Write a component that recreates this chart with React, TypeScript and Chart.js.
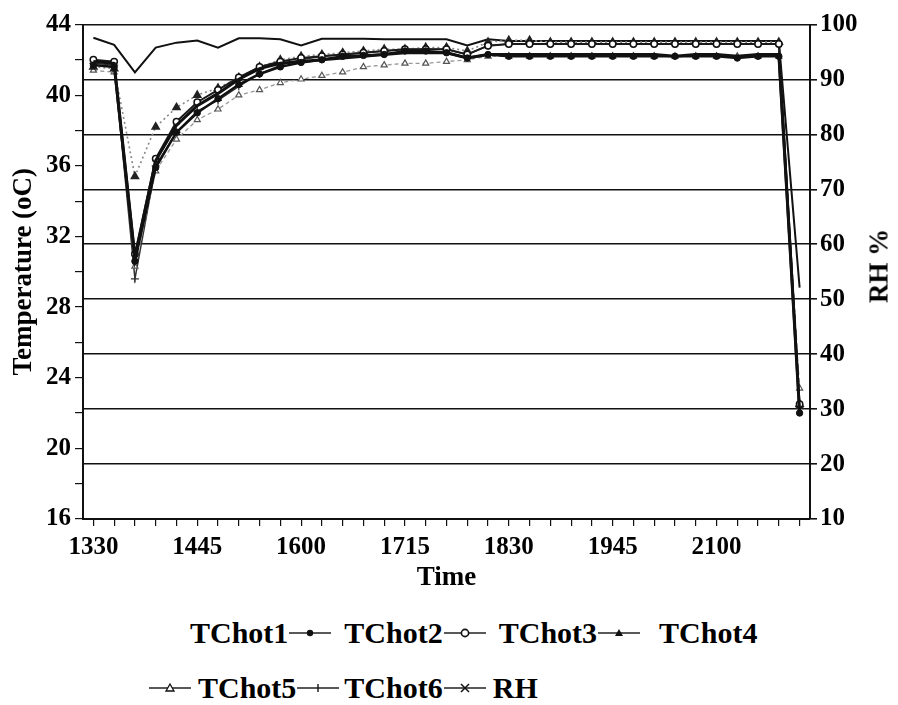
import React, { useEffect, useRef } from "react";
import { Chart, registerables } from "chart.js";

Chart.register(...registerables);

const times = ["1330","1345","1400","1415","1430","1445","1500","1515","1530","1545","1600","1615","1630","1645","1700","1715","1730","1745","1800","1815","1830","1845","1900","1915","1930","1945","2000","2015","2030","2045","2100","2115","2130","2145","2200"];

const tchot1 = [41.9, 41.8, 30.8, 36.3, 38.3, 39.4, 40.1, 40.9, 41.5, 41.8, 41.9, 42.0, 42.1, 42.2, 42.3, 42.4, 42.4, 42.4, 42.1, 42.3, 42.3, 42.3, 42.3, 42.3, 42.3, 42.3, 42.3, 42.3, 42.2, 42.3, 42.3, 42.2, 42.3, 42.3, 22.0];
const tchot2 = [41.7, 41.6, 30.6, 35.9, 37.9, 39.0, 39.8, 40.6, 41.2, 41.6, 41.85, 42.0, 42.2, 42.25, 42.3, 42.5, 42.5, 42.4, 42.1, 42.3, 42.2, 42.2, 42.2, 42.2, 42.2, 42.2, 42.2, 42.2, 42.2, 42.2, 42.2, 42.1, 42.2, 42.2, 22.0];
const tchot3 = [42.0, 41.9, 31.0, 36.4, 38.5, 39.6, 40.3, 41.0, 41.6, 41.9, 42.1, 42.2, 42.3, 42.4, 42.5, 42.6, 42.6, 42.6, 42.3, 42.8, 42.9, 42.9, 42.9, 42.9, 42.9, 42.9, 42.9, 42.9, 42.9, 42.9, 42.9, 42.9, 42.9, 42.9, 22.5];
const tchot4 = [41.6, 41.5, 35.4, 38.2, 39.3, 40.0, 40.4, 41.0, 41.6, 42.0, 42.2, 42.3, 42.4, 42.5, 42.6, 42.6, 42.7, 42.7, 42.5, 43.0, 43.1, 43.1, 43.0, 43.0, 43.0, 43.0, 43.0, 43.0, 43.0, 43.0, 43.0, 43.0, 43.0, 43.0, 22.5];
const tchot5 = [41.4, 41.3, 30.3, 35.7, 37.5, 38.6, 39.2, 40.0, 40.3, 40.7, 40.9, 41.1, 41.3, 41.6, 41.7, 41.8, 41.8, 41.9, 42.0, 42.2, 42.2, 42.2, 42.2, 42.2, 42.2, 42.2, 42.2, 42.2, 42.2, 42.2, 42.2, 42.2, 42.2, 42.2, 23.4];
const tchot6 = [41.8, 41.7, 29.6, 36.0, 37.9, 39.1, 39.7, 40.5, 41.2, 41.7, 42.0, 42.2, 42.3, 42.4, 42.5, 42.6, 42.6, 42.6, 42.3, 42.8, 42.9, 42.9, 42.9, 42.9, 42.9, 42.9, 42.9, 42.9, 42.9, 42.9, 42.9, 42.9, 42.9, 42.9, 22.3];
const rh = [97.6, 96.3, 91.3, 95.8, 96.7, 97.1, 95.8, 97.5, 97.5, 97.3, 96.2, 97.4, 97.4, 97.4, 97.3, 97.3, 97.3, 97.3, 96.2, 97.3, 97.0, 97.0, 97.0, 97.0, 97.0, 97.0, 97.0, 97.0, 97.0, 97.0, 97.0, 97.0, 97.0, 97.0, 52.1];

const tempMin = 16;
const tempMax = 44;
const rhMin = 10;
const rhMax = 100;
const labelEvery = 5;

const FONT = "'Liberation Serif', 'Times New Roman', serif";

type Sym = "none" | "dot" | "circle" | "tri" | "otri" | "plus" | "cross";

function Symbol({ kind }: { kind: Sym }) {
  const w = 44;
  const cx = w / 2, cy = 12;
  let m: React.ReactNode = null;
  if (kind === "dot") m = <circle cx={cx} cy={cy} r={3.2} fill="#111" />;
  if (kind === "circle") m = <circle cx={cx} cy={cy} r={3.6} fill="#fff" stroke="#111" strokeWidth={1.6} />;
  if (kind === "tri") m = <polygon points={`${cx},${cy - 4} ${cx + 4},${cy + 3} ${cx - 4},${cy + 3}`} fill="#111" />;
  if (kind === "otri") m = <polygon points={`${cx},${cy - 4} ${cx + 4},${cy + 3} ${cx - 4},${cy + 3}`} fill="#fff" stroke="#111" strokeWidth={1.3} />;
  if (kind === "plus") m = <path d={`M${cx} ${cy - 4} V${cy + 4}`} stroke="#111" strokeWidth={1.4} />;
  if (kind === "cross") m = <path d={`M${cx - 4} ${cy - 4} L${cx + 4} ${cy + 4} M${cx + 4} ${cy - 4} L${cx - 4} ${cy + 4}`} stroke="#111" strokeWidth={1.5} />;
  return (
    <svg width={w} height={24} style={{ display: "block", flex: "0 0 auto" }}>
      <line x1={1} y1={cy} x2={w - 1} y2={cy} stroke="#222" strokeWidth={1.5} />
      {m}
    </svg>
  );
}

export default function App() {
  const ref = useRef<HTMLCanvasElement>(null);

  useEffect(() => {
    if (!ref.current) return;
    const tickFont = { family: FONT, size: 25, weight: "bold" as const, lineHeight: 1 };
    const titleFont = { family: FONT, size: 27, weight: "bold" as const, lineHeight: 1.2 };
    const chart = new Chart(ref.current, {
      type: "line",
      data: {
        labels: times,
        datasets: [
          { label: "TChot1", data: tchot1, yAxisID: "y", borderColor: "#111", borderWidth: 3, pointRadius: 0, tension: 0 },
          { label: "TChot2", data: tchot2, yAxisID: "y", borderColor: "#111", borderWidth: 2.5, pointStyle: "circle", pointRadius: 3.2, pointBackgroundColor: "#111", pointBorderColor: "#111", pointBorderWidth: 1 },
          { label: "TChot3", data: tchot3, yAxisID: "y", borderColor: "#1a1a1a", borderWidth: 2, pointStyle: "circle", pointRadius: 3.2, pointBackgroundColor: "#fff", pointBorderColor: "#111", pointBorderWidth: 1.5 },
          { label: "TChot4", data: tchot4, yAxisID: "y", borderColor: "#888", borderWidth: 1.6, borderDash: [2, 3], pointStyle: "triangle", pointRadius: 4, pointBackgroundColor: "#222", pointBorderColor: "#222" },
          { label: "TChot5", data: tchot5, yAxisID: "y", borderColor: "#999", borderWidth: 1.3, borderDash: [4, 3], pointStyle: "triangle", pointRadius: 3.5, pointBackgroundColor: "#fff", pointBorderColor: "#555", pointBorderWidth: 1.2 },
          { label: "TChot6", data: tchot6, yAxisID: "y", borderColor: "#333", borderWidth: 1.5, pointStyle: "cross", pointRadius: 4, pointBorderColor: "#333", pointBorderWidth: 1.3 },
          { label: "RH", data: rh, yAxisID: "y2", borderColor: "#111", borderWidth: 2, pointStyle: "crossRot", pointRadius: 0, pointBorderColor: "#111" },
        ],
      },
      options: {
        animation: false,
        responsive: false,
        maintainAspectRatio: false,
        layout: { padding: { top: 14, left: 0, right: 0, bottom: 0 } },
        plugins: { legend: { display: false }, tooltip: { enabled: false } },
        scales: {
          x: {
            type: "category",
            offset: true,
            grid: { display: true, drawOnChartArea: false, drawTicks: true, tickLength: 7, color: "#111", lineWidth: 1.2, offset: false },
            border: { display: true, color: "#111", width: 2 },
            ticks: {
              autoSkip: false, maxRotation: 0, minRotation: 0, padding: 9, color: "#000", font: tickFont,
              callback: (_v: any, i: number) => (i % labelEvery === 0 ? times[i] : ""),
            },
            title: { display: true, text: "Time", color: "#000", font: titleFont, padding: { top: 0, bottom: 14 } },
            afterFit: (s: any) => { s.height = 89; },
          },
          y: {
            position: "left",
            min: tempMin,
            max: tempMax,
            grid: { display: true, drawOnChartArea: false, drawTicks: true, tickLength: 8, color: "#111", lineWidth: 1.2 },
            border: { display: true, color: "#111", width: 2 },
            ticks: {
              stepSize: 2, padding: 4, color: "#000", font: tickFont,
              callback: (v: any) => (Number(v) % 4 === 0 ? String(v) : ""),
            },
            title: { display: true, text: "Temperature (oC)", color: "#000", font: titleFont, padding: { top: 0, bottom: 0 } },
            afterFit: (s: any) => { s.width = 75; },
          },
          y2: {
            position: "right",
            min: rhMin,
            max: rhMax,
            grid: { display: true, drawOnChartArea: true, drawTicks: true, tickLength: 7, color: "#111", lineWidth: 1.6 },
            border: { display: true, color: "#111", width: 2 },
            ticks: { stepSize: 10, padding: 3, color: "#000", font: tickFont },
            afterFit: (s: any) => { s.width = 80; },
          },
        },
      },
    });
    return () => chart.destroy();
  }, []);

  const txt: React.CSSProperties = { fontFamily: FONT, fontWeight: "bold", fontSize: 30, lineHeight: "34px", color: "#000" };
  const row: React.CSSProperties = { position: "absolute", whiteSpace: "nowrap", display: "flex", alignItems: "center", height: 34 };

  return (
    <div style={{ position: "relative", width: 882, height: 697 }}>
      <canvas ref={ref} width={882} height={600} style={{ width: 882, height: 600, display: "block" }} />
      <div style={{ position: "absolute", left: 871, top: 258, transform: "translate(-50%, -50%) rotate(-90deg)", fontFamily: FONT, fontWeight: "bold", fontSize: 27, color: "#000", whiteSpace: "nowrap" }}>RH %</div>
      <div style={{ ...row, left: 182, top: 608 }}>
        <span style={txt}>TChot1</span><Symbol kind="dot" />
        <span style={{ ...txt, marginLeft: 12 }}>TChot2</span><Symbol kind="circle" />
        <span style={{ ...txt, marginLeft: 12 }}>TChot3</span><Symbol kind="tri" />
        <span style={{ ...txt, marginLeft: 18 }}>TChot4</span>
      </div>
      <div style={{ ...row, left: 140, top: 663 }}>
        <Symbol kind="otri" />
        <span style={{ ...txt, marginLeft: 6 }}>TChot5</span><Symbol kind="plus" />
        <span style={{ ...txt, marginLeft: 4 }}>TChot6</span><Symbol kind="cross" />
        <span style={{ ...txt, marginLeft: 6 }}>RH</span>
      </div>
    </div>
  );
}
